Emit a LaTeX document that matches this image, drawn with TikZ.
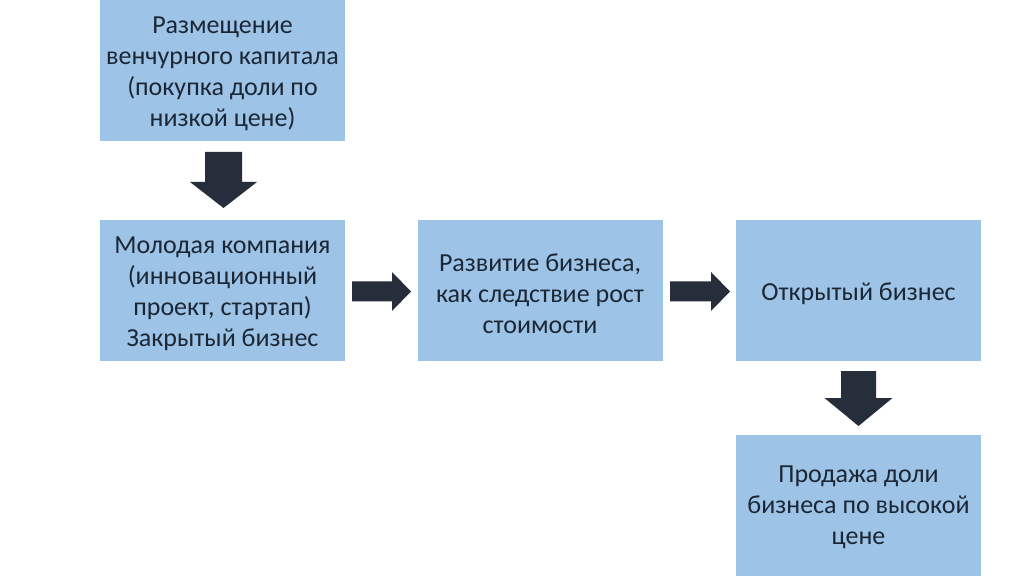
\documentclass[tikz,border=0pt]{standalone}
\usepackage{fontspec}
\setmainfont{Carlito}
\usetikzlibrary{calc}
\definecolor{boxfill}{HTML}{9DC3E6}
\definecolor{boxtext}{HTML}{1C2736}
\definecolor{arrc}{HTML}{262E3B}
\tikzset{
  box/.style={fill=boxfill, draw=none, minimum width=245pt, minimum height=141pt, inner sep=0pt},
  txt/.style={inner sep=0pt, align=center, text=boxtext, font=\fontsize{26}{31}\selectfont},
  arr/.style={fill=arrc, draw=none}
}
\newcommand\mydarr[6]{\fill[arr] ({#1-#3},{#2}) -- ({#1+#3},{#2}) -- ({#1+#3},{#2-#4}) -- ({#1+#5},{#2-#4}) -- ({#1},{#2-#4-#6}) -- ({#1-#5},{#2-#4}) -- ({#1-#3},{#2-#4}) -- cycle;}
\newcommand\myrarr[6]{\fill[arr] ({#1},{#2+#3}) -- ({#1},{#2-#3}) -- ({#1+#4},{#2-#3}) -- ({#1+#4},{#2-#5}) -- ({#1+#4+#6},{#2}) -- ({#1+#4},{#2+#5}) -- ({#1+#4},{#2+#3}) -- cycle;}
\begin{document}
\begin{tikzpicture}[x=1pt,y=1pt]
\useasboundingbox (0,0) rectangle (1024,576);
\fill[white] (0,0) rectangle (1024,576);
\node[box] (b1) at (222.5,505.5) {};
\node[box] (b2) at (222.5,285.5) {};
\node[box] (b3) at (540,285.5) {};
\node[box] (b4) at (858.5,285.5) {};
\node[box] (b5) at (858.5,70.5) {};
\node[txt] (t1) at ($(b1.center)+(0,-3.5)$) {Размещение\\венчурного капитала\\(покупка доли по\\низкой цене)};
\node[txt] (t2) at ($(b2.center)+(0,-3.5)$) {Молодая компания\\(инновационный\\проект, стартап)\\Закрытый бизнес};
\node[txt] (t3) at ($(b3.center)+(0,-3.5)$) {Развитие бизнеса,\\как следствие рост\\стоимости};
\node[txt] (t4) at ($(b4.center)+(0,-3.5)$) {Открытый бизнес};
\node[txt] (t5) at ($(b5.center)+(0,-1.5)$) {Продажа доли\\бизнеса по высокой\\цене};
% connectors (block arrows)
\mydarr{223.5}{424}{18.5}{30}{33.5}{26}
\myrarr{352}{284.5}{10}{40}{19.5}{19}
\myrarr{670}{284.5}{10}{41}{19.5}{19}
\mydarr{858.5}{205}{17.5}{27}{34}{28}
\end{tikzpicture}
\end{document}
